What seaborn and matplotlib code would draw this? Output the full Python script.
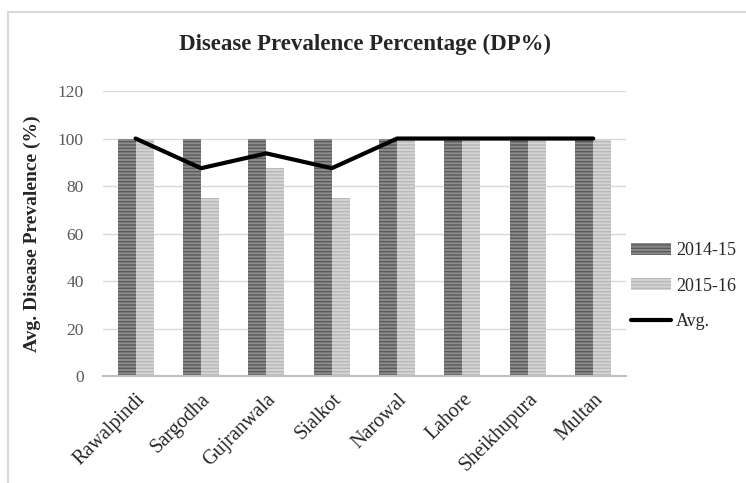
import pandas as pd
import numpy as np
import matplotlib
matplotlib.use("Agg")
import matplotlib.pyplot as plt
import seaborn as sns
from matplotlib.patches import Rectangle, Patch
from matplotlib.lines import Line2D

# données
districts = ['Rawalpindi', 'Sargodha', 'Gujranwala', 'Sialkot', 'Narowal',
             'Lahore', 'Sheikhupura', 'Multan']
dp_2014 = [100, 100, 100, 100, 100, 100, 100, 100]
dp_2015 = [100, 75, 87.5, 75, 100, 100, 100, 100]
dp_avg = [100, 87.5, 93.75, 87.5, 100, 100, 100, 100]

df = pd.DataFrame({
    'District': districts * 2,
    'DP': dp_2014 + dp_2015,
    'Annee': ['2014-15'] * len(districts) + ['2015-16'] * len(districts),
})

sns.set_style('white')
plt.rcParams['font.family'] = ['Liberation Serif', 'DejaVu Serif']
plt.rcParams['hatch.linewidth'] = 1.0

fig = plt.figure(figsize=(7.46, 4.83), dpi=100)
ax = fig.add_axes([0.138, 0.2215, 0.701, 0.590])

# cadre du graphique
fig.patches.append(Rectangle((8 / 746, -0.1), 1.2, 1 - 12 / 483 + 0.1,
                             transform=fig.transFigure, fill=False,
                             edgecolor='#d9d9d9', linewidth=1.5, zorder=0))

couleurs = {'2014-15': '#8c8c8c', '2015-16': '#d4d4d4'}
hachures = {'2014-15': '#5a5a5a', '2015-16': '#b8b8b8'}

sns.barplot(data=df, x='District', y='DP', hue='Annee', palette=couleurs,
            width=0.55, gap=0, ax=ax, legend=False, saturation=1)

n = len(districts)
for i, p in enumerate(ax.patches[:2 * n]):
    annee = '2014-15' if i < n else '2015-16'
    p.set_hatch('-----')
    p.set_edgecolor(hachures[annee])
    p.set_linewidth(0)

ax.plot(np.arange(n), dp_avg, color='black', linewidth=3, zorder=5)

ax.set_ylim(0, 120)
ax.set_yticks(range(0, 121, 20))
ax.set_xlim(-0.5, n - 0.5)
ax.yaxis.grid(True, color='#d9d9d9', linewidth=1)
ax.set_axisbelow(True)
for s in ['top', 'right', 'left']:
    ax.spines[s].set_visible(False)
ax.spines['bottom'].set_color('#bfbfbf')
ax.spines['bottom'].set_linewidth(1.5)
ax.tick_params(axis='both', length=0)
ax.tick_params(axis='y', labelsize=12.5, labelcolor='#595959', pad=14)
ax.tick_params(axis='x', pad=10)
ax.set_xticks(range(n))
ax.set_xticklabels(districts, rotation=45, ha='right', rotation_mode='anchor',
                   fontsize=14.5)
ax.set_xlabel('')
ax.set_ylabel('Avg. Disease Prevalence (%)', fontsize=14, fontweight='bold',
              labelpad=12)

fig.text(0.489, 0.908, 'Disease Prevalence Percentage (DP%)', ha='center',
         va='center', fontsize=16.5, fontweight='bold')

poignees = [
    Patch(facecolor=couleurs['2014-15'], edgecolor=hachures['2014-15'],
          hatch='-----', linewidth=0),
    Patch(facecolor=couleurs['2015-16'], edgecolor=hachures['2015-16'],
          hatch='-----', linewidth=0),
    Line2D([0], [0], color='black', linewidth=3),
]
fig.legend(poignees, ['2014-15', '2015-16', 'Avg.'], loc='center left',
           bbox_to_anchor=(631 / 746, 1 - 286 / 483), frameon=False,
           fontsize=13, handlelength=2.2, handleheight=0.6, labelspacing=1.0,
           handletextpad=0.3, borderpad=0, borderaxespad=0)

plt.savefig('out.png', dpi=100)
